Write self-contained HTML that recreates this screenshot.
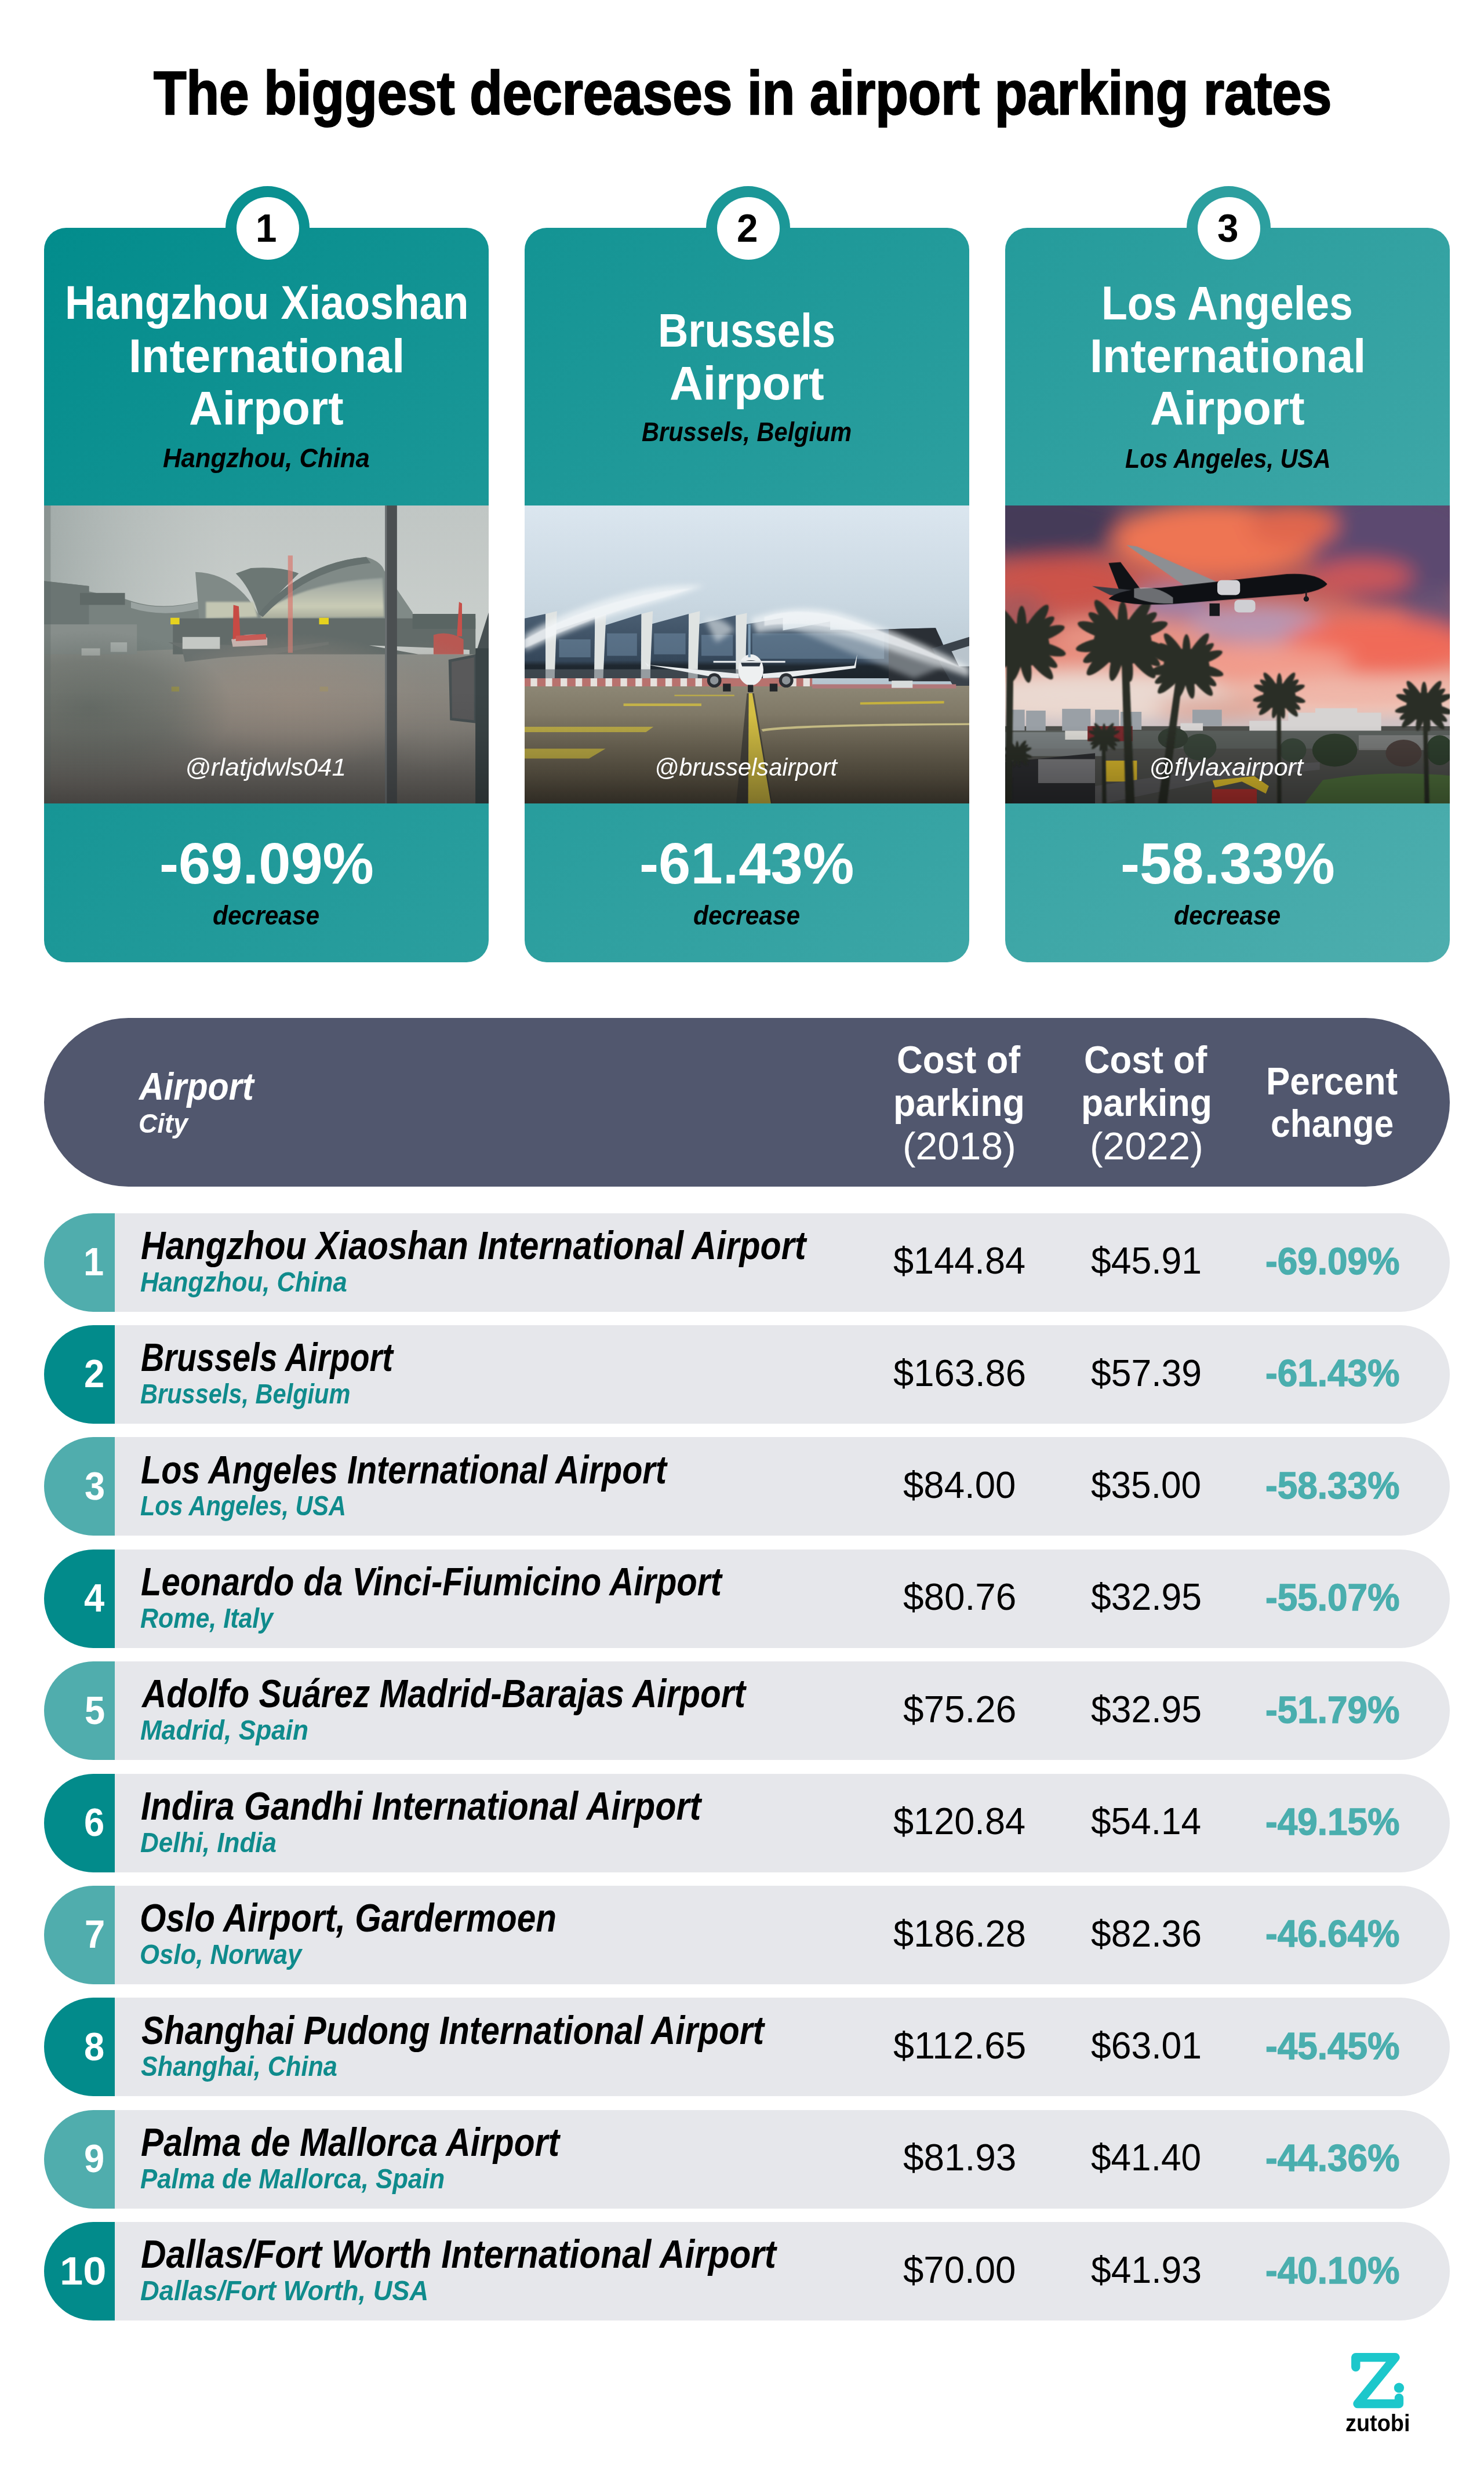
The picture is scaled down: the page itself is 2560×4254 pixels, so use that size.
<!DOCTYPE html>
<html lang="en"><head><meta charset="utf-8"><title>The biggest decreases in airport parking rates</title>
<style>
html,body{margin:0;padding:0;background:#fff;}
body{width:2560px;height:4254px;position:relative;overflow:hidden;font-family:"Liberation Sans",sans-serif;}
.t{position:absolute;white-space:nowrap;line-height:1;transform-origin:0 0;margin:0;padding:0;}
.card{position:absolute;border-radius:38px;}
.ring{position:absolute;width:145.4px;height:145.4px;border-radius:50%;}
.dot{position:absolute;width:108px;height:108px;border-radius:50%;background:#fff;}
.photo{position:absolute;overflow:hidden;background:#888;}
.photo svg{position:absolute;left:0;top:0;display:block;}
.hdr{position:absolute;left:76px;top:1756.3px;width:2425px;height:290.3px;border-radius:146px;background:#51576e;}
.rb{position:absolute;left:76.3px;width:122px;height:170px;border-radius:85px 0 0 85px;}
.rg{position:absolute;left:198.2px;width:2302.8px;height:170px;border-radius:0 85px 85px 0;background:#e6e7eb;}
</style></head>
<body>
<div class="card" style="left:76px;top:393px;width:767px;height:1267px;background-image:linear-gradient(135deg,#028c8c 0%,#4eaeae 100%);background-size:2425px 1267px;background-position:0px 0px;background-repeat:no-repeat;"></div>
<div class="ring" style="left:389.1px;top:320.7px;background-color:#0a9090;background-image:linear-gradient(135deg,#028c8c 0%,#4eaeae 100%);background-size:2425px 1267px;background-position:-313.1px 72.30000000000001px;background-repeat:no-repeat;"></div>
<div class="dot" style="left:407.8px;top:339.8px"></div>
<div class="card" style="left:905px;top:393px;width:767px;height:1267px;background-image:linear-gradient(135deg,#028c8c 0%,#4eaeae 100%);background-size:2425px 1267px;background-position:-829px 0px;background-repeat:no-repeat;"></div>
<div class="ring" style="left:1218.1px;top:320.7px;background-color:#1b9797;background-image:linear-gradient(135deg,#028c8c 0%,#4eaeae 100%);background-size:2425px 1267px;background-position:-1142.1px 72.30000000000001px;background-repeat:no-repeat;"></div>
<div class="dot" style="left:1236.8px;top:339.8px"></div>
<div class="card" style="left:1734px;top:393px;width:767px;height:1267px;background-image:linear-gradient(135deg,#028c8c 0%,#4eaeae 100%);background-size:2425px 1267px;background-position:-1658px 0px;background-repeat:no-repeat;"></div>
<div class="ring" style="left:2047.1px;top:320.7px;background-color:#2c9f9f;background-image:linear-gradient(135deg,#028c8c 0%,#4eaeae 100%);background-size:2425px 1267px;background-position:-1971.1px 72.30000000000001px;background-repeat:no-repeat;"></div>
<div class="dot" style="left:2065.8px;top:339.8px"></div>
<div class="photo" style="left:76px;top:872px;width:767px;height:514px"><svg width="767" height="514" viewBox="0 23 1484 995" preserveAspectRatio="none">
<defs>
<linearGradient id="p1sky" x1="0" y1="0" x2="0" y2="1"><stop offset="0" stop-color="#c0c6c4"/><stop offset="1" stop-color="#cbd0cd"/></linearGradient>
<linearGradient id="p1left" x1="0" y1="0" x2="1" y2="0"><stop offset="0" stop-color="#9aa4a2" stop-opacity=".8"/><stop offset=".5" stop-color="#a7b0ae" stop-opacity=".4"/><stop offset="1" stop-color="#b0b8b6" stop-opacity="0"/></linearGradient>
<linearGradient id="p1gnd" x1="0" y1="0" x2="0" y2="1"><stop offset="0" stop-color="#8a8d88"/><stop offset=".4" stop-color="#88857e"/><stop offset=".75" stop-color="#73706b"/><stop offset="1" stop-color="#625f5b"/></linearGradient>
<linearGradient id="p1dark" x1="0" y1="0" x2="0" y2="1"><stop offset="0" stop-color="#000" stop-opacity="0"/><stop offset=".35" stop-color="#000" stop-opacity=".06"/><stop offset="1" stop-color="#000" stop-opacity=".3"/></linearGradient>
<linearGradient id="p1win" x1="0" y1="0" x2="0" y2="1"><stop offset="0" stop-color="#9aa39f"/><stop offset=".7" stop-color="#c9cbb6"/><stop offset="1" stop-color="#a9ad9c"/></linearGradient>
<filter id="p1b"><feGaussianBlur stdDeviation="3"/></filter>
<filter id="p1b2" x="-50%" y="-50%" width="200%" height="200%"><feGaussianBlur stdDeviation="45"/></filter>
<radialGradient id="p1warm"><stop offset="0" stop-color="#9a8c80" stop-opacity=".75"/><stop offset=".55" stop-color="#9a8c80" stop-opacity=".45"/><stop offset="1" stop-color="#9a8c80" stop-opacity="0"/></radialGradient>
<radialGradient id="p1warm2"><stop offset="0" stop-color="#8a847c" stop-opacity=".6"/><stop offset="1" stop-color="#8a847c" stop-opacity="0"/></radialGradient>
<radialGradient id="p1cool"><stop offset="0" stop-color="#57615c" stop-opacity=".7"/><stop offset=".6" stop-color="#57615c" stop-opacity=".4"/><stop offset="1" stop-color="#57615c" stop-opacity="0"/></radialGradient>
</defs>
<rect x="0" y="23" width="1484" height="520" fill="url(#p1sky)"/>
<rect x="0" y="23" width="620" height="520" fill="url(#p1left)"/>
<rect x="0" y="500" width="1484" height="520" fill="url(#p1gnd)"/>
<!-- left buildings -->
<path d="M0 275 L150 292 L150 310 L270 335 L300 345 Q400 375 530 340 L530 500 L0 520 Z" fill="#78827f"/>
<path d="M0 275 L150 292 L150 420 L0 420 Z" fill="#6b7573"/>
<rect x="0" y="420" width="310" height="100" fill="#878e8b"/>
<rect x="120" y="315" width="150" height="40" fill="#5f6967"/>
<path d="M290 345 Q400 380 530 340 L530 365 Q400 400 290 365 Z" fill="#9aa3a1"/>
<!-- main terminal -->
<path d="M505 245 Q640 250 715 385 Q860 215 1075 195 Q1125 210 1135 240 L1230 380 L1235 430 L520 430 Z" fill="#808a87"/>
<path d="M690 232 Q790 225 850 250 L715 385 Q690 300 640 250 Z" fill="#6c7774"/>
<path d="M540 345 L700 345 L712 395 L540 400 Z" fill="#c3c6b2" filter="url(#p1b)"/>
<path d="M725 385 Q860 280 1130 265 L1135 395 L725 400 Z" fill="url(#p1win)" filter="url(#p1b)"/>
<path d="M715 385 Q860 215 1075 195 L1090 215 Q880 235 730 395 Z" fill="#66716f"/>
<rect x="430" y="400" width="1010" height="120" fill="#626b69"/>
<rect x="1230" y="385" width="210" height="50" fill="#5a6563"/>
<!-- aircraft & vehicles -->
<path d="M415 480 L640 490 L760 500 L950 478 L950 488 L760 520 L600 530 L470 545 L460 500 Z" fill="#6a716f"/>
<rect x="462" y="462" width="125" height="40" fill="#c4c8c4"/>
<path d="M625 470 Q690 440 745 465 L745 490 L630 495 Z" fill="#c9b4b0"/>
<path d="M632 355 L650 360 L655 465 L630 470 Z" fill="#c74a44"/>
<path d="M640 458 L740 452 L742 470 L640 476 Z" fill="#c95a55"/>
<rect x="814" y="190" width="16" height="325" fill="#d87a70" opacity=".7"/>
<rect x="422" y="398" width="30" height="22" fill="#e6d21e"/><rect x="918" y="398" width="32" height="22" fill="#e6d21e"/>
<rect x="425" y="628" width="26" height="16" fill="#b9a92c" opacity=".8"/><rect x="920" y="628" width="28" height="16" fill="#a89a3a" opacity=".6"/>
<rect x="125" y="500" width="62" height="24" fill="#b9bdb9"/><rect x="222" y="480" width="55" height="32" fill="#aeb4b1"/>
<path d="M1085 490 L1300 498 L1420 505 L1420 520 L1250 520 Z" fill="#c3c7c4"/>
<path d="M1300 455 Q1350 440 1400 470 L1400 520 L1300 520 Z" fill="#b85852"/>
<path d="M1385 345 L1395 350 L1395 460 L1378 460 Z" fill="#c7504a"/>
<!-- wet reflections -->
<ellipse cx="830" cy="680" rx="470" ry="230" fill="url(#p1warm)"/>
<ellipse cx="1290" cy="690" rx="200" ry="220" fill="url(#p1warm2)"/>
<ellipse cx="150" cy="700" rx="480" ry="260" fill="url(#p1cool)"/>
<!-- pole -->
<rect x="1138" y="23" width="40" height="995" fill="#4b4f51"/>
<rect x="1138" y="23" width="6" height="995" fill="#6d7274"/>
<!-- jet bridge right -->
<path d="M1350 538 L1440 520 L1484 380 L1484 1018 L1440 1018 L1440 750 L1355 740 Z" fill="#475052"/>
<path d="M1360 545 L1435 530 L1435 740 L1362 732 Z" fill="#59595a"/>
<rect x="1440" y="500" width="44" height="518" fill="#3a4446"/>
<rect x="0" y="23" width="22" height="995" fill="#5b6664" opacity=".35"/>
<!-- bottom darkening -->
<rect x="0" y="640" width="1484" height="380" fill="url(#p1dark)"/>
</svg>
</div>
<div class="photo" style="left:905px;top:872px;width:767px;height:514px"><svg width="767" height="514" viewBox="0 23 1484 995" preserveAspectRatio="none">
<defs>
<linearGradient id="p2sky" x1="0" y1="0" x2="0" y2="1"><stop offset="0" stop-color="#dbe6ef"/><stop offset=".5" stop-color="#cad8e2"/><stop offset="1" stop-color="#b4c4ce"/></linearGradient>
<linearGradient id="p2gnd" x1="0" y1="0" x2="0" y2="1"><stop offset="0" stop-color="#8d8775"/><stop offset=".3" stop-color="#7c7563"/><stop offset=".75" stop-color="#665e4d"/><stop offset="1" stop-color="#4f483b"/></linearGradient>
<linearGradient id="p2dark" x1="0" y1="0" x2="0" y2="1"><stop offset="0" stop-color="#000" stop-opacity="0"/><stop offset="1" stop-color="#000" stop-opacity=".4"/></linearGradient>
<linearGradient id="p2glass" x1="0" y1="0" x2="0" y2="1"><stop offset="0" stop-color="#4a5e72"/><stop offset=".72" stop-color="#35475a"/><stop offset=".8" stop-color="#1f2830"/><stop offset="1" stop-color="#1c242b"/></linearGradient>
<filter id="p2b" x="-20%" y="-40%" width="140%" height="180%"><feGaussianBlur stdDeviation="9"/></filter>
<filter id="p2b1"><feGaussianBlur stdDeviation="2"/></filter>
</defs>
<rect x="0" y="23" width="1484" height="620" fill="url(#p2sky)"/>
<rect x="0" y="625" width="1484" height="395" fill="url(#p2gnd)"/>
<!-- building: sawtooth glass blocks -->
<g fill="url(#p2glass)">
<path d="M0 400 L70 385 L70 600 L0 600 Z"/>
<path d="M100 440 L235 395 L235 600 L100 600 Z"/>
<path d="M262 425 L390 385 L390 600 L262 600 Z"/>
<path d="M420 420 L548 385 L548 600 L420 600 Z"/>
<path d="M578 420 L705 390 L705 600 L578 600 Z"/>
<path d="M738 420 L862 398 L862 440 L1020 410 L1020 438 L1215 436 L1370 432 L1390 470 L1440 600 L738 600 Z"/>
</g>
<path d="M1215 436 L1372 432 L1392 478 L1450 610 L1215 610 Z" fill="#2a2f35"/>
<path d="M1360 500 L1484 462 L1484 625 L1430 625 Z" fill="#3a424a"/>
<path d="M1425 510 L1484 492 L1484 560 L1450 560 Z" fill="#b9c4cc"/>
<g fill="#6f8aa3" opacity=".55"><rect x="115" y="470" width="105" height="60"/><rect x="275" y="450" width="100" height="75"/><rect x="432" y="450" width="105" height="70"/><rect x="590" y="455" width="105" height="70"/><rect x="760" y="450" width="440" height="85"/></g>
<!-- white pillars -->
<g fill="#dfe3e2">
<path d="M70 385 L108 376 L100 600 L70 600 Z"/><path d="M235 395 L272 386 L262 600 L232 600 Z"/>
<path d="M390 385 L428 376 L418 600 L388 600 Z"/><path d="M548 385 L585 376 L576 600 L546 600 Z"/>
<path d="M705 390 L742 382 L736 600 L706 600 Z"/>
</g>
<rect x="0" y="570" width="740" height="32" fill="#59636a" opacity=".55"/>
<!-- barriers -->
<rect x="0" y="600" width="960" height="27" fill="#b8726e"/>
<g fill="#e6e1dd"><rect x="20" y="600" width="22" height="27"/><rect x="70" y="600" width="22" height="27"/><rect x="120" y="600" width="22" height="27"/><rect x="170" y="600" width="22" height="27"/><rect x="220" y="600" width="22" height="27"/><rect x="270" y="600" width="22" height="27"/><rect x="320" y="600" width="22" height="27"/><rect x="370" y="600" width="22" height="27"/><rect x="420" y="600" width="22" height="27"/><rect x="470" y="600" width="22" height="27"/><rect x="520" y="600" width="22" height="27"/><rect x="570" y="600" width="22" height="27"/><rect x="885" y="600" width="22" height="27"/><rect x="930" y="600" width="22" height="27"/></g>
<rect x="960" y="620" width="480" height="14" fill="#b0787a"/>
<rect x="1225" y="608" width="70" height="24" fill="#d8dcdc"/>
<!-- water arcs -->
<path d="M0 455 Q170 352 400 302 Q500 284 600 290 Q520 325 420 352 Q200 412 0 510 Z" fill="#f2f6f8" opacity=".7" filter="url(#p2b)"/><path d="M0 470 Q170 372 400 322 Q480 305 560 300 Q470 330 400 348 Q200 405 0 500 Z" fill="#f4f7f9" opacity=".65" filter="url(#p2b1)"/>
<path d="M755 400 Q900 345 1050 380 Q1260 445 1484 562 L1484 596 Q1300 532 1150 482 Q960 418 775 448 Z" fill="#f2f6f8" opacity=".7" filter="url(#p2b)"/><path d="M800 395 Q900 362 1040 392 Q1250 455 1470 570 Q1300 510 1150 462 Q960 402 800 425 Z" fill="#f4f7f9" opacity=".65" filter="url(#p2b1)"/><path d="M860 420 Q1000 400 1200 470 L1400 560 L1300 600 L1100 520 Z" fill="#dfe7ec" opacity=".4" filter="url(#p2b)"/>
<path d="M600 400 Q660 390 700 440 L640 480 Z" fill="#e6ecef" opacity=".6" filter="url(#p2b)"/>
<!-- aircraft -->
<path d="M410 555 L715 585 L715 600 L640 598 Z" fill="#e9ecee"/>
<path d="M1110 520 L1100 558 L795 585 L795 600 L870 598 L1105 566 Z" fill="#e9ecee"/>
<path d="M400 545 L415 556 L412 562 Z" fill="#e9ecee"/>
<ellipse cx="755" cy="572" rx="42" ry="52" fill="#eef0f1"/>
<path d="M722 548 Q755 532 788 548 L784 560 L726 560 Z" fill="#2b3540"/>
<rect x="746" y="420" width="8" height="110" fill="#7f9db5"/>
<path d="M630 542 L870 542 L870 548 L630 548 Z" fill="#dfe3e6"/>
<circle cx="633" cy="607" r="24" fill="#2a2e33"/><circle cx="633" cy="607" r="14" fill="#8d9499"/>
<circle cx="873" cy="607" r="24" fill="#2a2e33"/><circle cx="873" cy="607" r="14" fill="#8d9499"/>
<rect x="662" y="618" width="26" height="26" fill="#23262a"/><rect x="818" y="618" width="26" height="26" fill="#23262a"/><rect x="745" y="622" width="18" height="24" fill="#23262a"/>
<!-- tarmac markings -->
<path d="M742 650 L766 650 L826 1018 L706 1018 Z" fill="#3f3d38" opacity=".8"/>
<path d="M748 650 L760 650 L822 1018 L746 1018 Z" fill="#d4bf44"/>
<path d="M330 684 L590 684 L590 693 L330 693 Z" fill="#c4b248"/>
<path d="M0 762 L430 762 L405 780 L0 780 Z" fill="#bcac48"/>
<path d="M0 835 L270 835 L215 868 L0 868 Z" fill="#bfae46"/>
<path d="M1120 680 L1400 676 L1400 684 L1120 688 Z" fill="#c5b13e"/>
<path d="M790 770 Q900 752 1484 750 L1484 756 Q900 760 795 778 Z" fill="#cfc58a"/>
<path d="M500 655 L700 655 L700 660 L500 660 Z" fill="#b9a94a"/>
<rect x="0" y="720" width="1484" height="300" fill="url(#p2dark)"/>
</svg>
</div>
<div class="photo" style="left:1734px;top:872px;width:767px;height:514px"><svg width="767" height="514" viewBox="0 23 1484 995" preserveAspectRatio="none">
<defs>
<linearGradient id="p3sky" x1="0" y1="0" x2="0" y2="1"><stop offset="0" stop-color="#5c4a64"/><stop offset=".25" stop-color="#b85a58"/><stop offset=".5" stop-color="#e88878"/><stop offset=".67" stop-color="#ecd2c6"/><stop offset=".72" stop-color="#cfc4c6"/><stop offset="1" stop-color="#b9b4b8"/></linearGradient>
<linearGradient id="p3dark" x1="0" y1="0" x2="0" y2="1"><stop offset="0" stop-color="#000" stop-opacity="0"/><stop offset="1" stop-color="#000" stop-opacity=".35"/></linearGradient>
<filter id="p3b" x="-50%" y="-50%" width="200%" height="200%"><feGaussianBlur stdDeviation="34"/></filter>
<filter id="p3s"><feGaussianBlur stdDeviation="1.6"/></filter>
</defs>
<rect x="0" y="23" width="1484" height="995" fill="url(#p3sky)"/>
<g filter="url(#p3b)">
<ellipse cx="100" cy="80" rx="310" ry="115" fill="#453b59"/>
<ellipse cx="1310" cy="160" rx="300" ry="200" fill="#5c4970"/>
<ellipse cx="1440" cy="420" rx="110" ry="120" fill="#6a5274"/>
<ellipse cx="700" cy="140" rx="340" ry="125" fill="#ee7452"/>
<ellipse cx="960" cy="90" rx="150" ry="70" fill="#e0664e"/>
<ellipse cx="1190" cy="260" rx="170" ry="55" fill="#cc5658"/>
<ellipse cx="190" cy="285" rx="240" ry="90" fill="#cc524a"/>
<ellipse cx="40" cy="400" rx="110" ry="90" fill="#a8585a"/>
<ellipse cx="560" cy="345" rx="130" ry="60" fill="#a080a4"/>
<ellipse cx="840" cy="420" rx="230" ry="65" fill="#b896b2"/>
<ellipse cx="1240" cy="490" rx="310" ry="95" fill="#f06a58"/>
<ellipse cx="860" cy="545" rx="300" ry="55" fill="#f29c8c"/>
<ellipse cx="420" cy="470" rx="260" ry="60" fill="#e89484"/>
<ellipse cx="300" cy="655" rx="430" ry="75" fill="#ead9d1"/>
<ellipse cx="1150" cy="655" rx="380" ry="55" fill="#f0b6a8"/>
<ellipse cx="700" cy="700" rx="200" ry="30" fill="#d89a8c"/>
</g>
<rect x="0" y="760" width="1484" height="260" fill="#4e4f4c"/>
<g fill="#9aa0a6"><rect x="15" y="705" width="50" height="70"/><rect x="70" y="708" width="65" height="70"/><rect x="190" y="702" width="95" height="75"/><rect x="300" y="705" width="80" height="70"/><rect x="385" y="712" width="70" height="60"/><rect x="625" y="705" width="98" height="55"/></g>
<g fill="#d6d3d2"><rect x="815" y="742" width="240" height="42"/><rect x="945" y="715" width="310" height="62"/><rect x="1035" y="700" width="140" height="20"/><rect x="585" y="750" width="75" height="35"/></g>
<rect x="0" y="775" width="1484" height="60" fill="#5a5f5c"/>
<rect x="0" y="780" width="330" height="80" fill="#8e9498" opacity=".6"/>
<rect x="1180" y="790" width="304" height="50" fill="#9a9a9a" opacity=".5"/>
<path d="M0 880 L300 850 L300 1018 L0 1018 Z" fill="#2c2d30"/>
<rect x="110" y="870" width="190" height="80" fill="#77777a"/>
<rect x="200" y="775" width="90" height="30" fill="#d9d7d2"/><rect x="275" y="760" width="150" height="50" fill="#7a2a2e"/>
<rect x="335" y="875" width="105" height="70" fill="#d6b52c"/>
<path d="M690 935 L800 905 L880 960 L870 985 L790 945 L700 965 Z" fill="#e3c22e"/>
<rect x="690" y="970" width="150" height="50" fill="#b3322f"/>
<path d="M1060 940 Q1250 905 1484 925 L1484 1018 L1000 1018 Z" fill="#4f6f3c"/>
<ellipse cx="1100" cy="840" rx="75" ry="55" fill="#2f3d2d"/><ellipse cx="1330" cy="850" rx="60" ry="45" fill="#4a3f3c"/><ellipse cx="1450" cy="840" rx="45" ry="50" fill="#2f402f"/>
<ellipse cx="650" cy="830" rx="55" ry="45" fill="#39453a"/><ellipse cx="560" cy="800" rx="50" ry="35" fill="#333d33"/><ellipse cx="960" cy="840" rx="45" ry="40" fill="#39463a"/>
<path d="M300 960 L700 900 L1050 880 L1050 905 L700 940 L330 1018 L300 1018 Z" fill="#5c5c5e"/>
<g fill="#2b2f27" filter="url(#p3s)">
<path d="M5 520 L28 520 L22 1018 L0 1018 Z"/>
<path d="M388 520 L412 520 L432 1018 L402 1018 Z"/>
<path d="M570 600 L592 600 L540 1018 L510 1018 Z"/>
<path d="M906 660 L920 660 L922 1018 L908 1018 Z"/>
<path d="M1394 700 L1408 700 L1416 1018 L1400 1018 Z"/>
<path d="M322 800 L334 800 L338 1018 L324 1018 Z"/>
<g transform="translate(55 480) scale(1.05)"><ellipse rx="88" ry="70" cy="8"/><ellipse cx="70" cy="0" rx="75" ry="19" transform="rotate(-20) scale(1)"/><ellipse cx="70" cy="0" rx="75" ry="19" transform="rotate(-55) scale(1)"/><ellipse cx="70" cy="0" rx="75" ry="19" transform="rotate(-90) scale(0.8)"/><ellipse cx="70" cy="0" rx="75" ry="19" transform="rotate(-125) scale(1)"/><ellipse cx="70" cy="0" rx="75" ry="19" transform="rotate(-160) scale(1)"/><ellipse cx="70" cy="0" rx="75" ry="19" transform="rotate(15) scale(1)"/><ellipse cx="70" cy="0" rx="75" ry="19" transform="rotate(50) scale(1.05)"/><ellipse cx="70" cy="0" rx="75" ry="19" transform="rotate(80) scale(0.9)"/><ellipse cx="70" cy="0" rx="75" ry="19" transform="rotate(105) scale(0.9)"/><ellipse cx="70" cy="0" rx="75" ry="19" transform="rotate(135) scale(1.05)"/><ellipse cx="70" cy="0" rx="75" ry="19" transform="rotate(168) scale(1)"/><ellipse cx="70" cy="0" rx="75" ry="19" transform="rotate(35) scale(0.95)"/><ellipse cx="70" cy="0" rx="75" ry="19" transform="rotate(150) scale(0.95)"/><ellipse cx="70" cy="0" rx="75" ry="19" transform="rotate(-38) scale(0.9)"/><ellipse cx="70" cy="0" rx="75" ry="19" transform="rotate(-142) scale(0.9)"/></g><g transform="translate(392 470) scale(1.1)"><ellipse rx="88" ry="70" cy="8"/><ellipse cx="70" cy="0" rx="75" ry="19" transform="rotate(-20) scale(1)"/><ellipse cx="70" cy="0" rx="75" ry="19" transform="rotate(-55) scale(1)"/><ellipse cx="70" cy="0" rx="75" ry="19" transform="rotate(-90) scale(0.8)"/><ellipse cx="70" cy="0" rx="75" ry="19" transform="rotate(-125) scale(1)"/><ellipse cx="70" cy="0" rx="75" ry="19" transform="rotate(-160) scale(1)"/><ellipse cx="70" cy="0" rx="75" ry="19" transform="rotate(15) scale(1)"/><ellipse cx="70" cy="0" rx="75" ry="19" transform="rotate(50) scale(1.05)"/><ellipse cx="70" cy="0" rx="75" ry="19" transform="rotate(80) scale(0.9)"/><ellipse cx="70" cy="0" rx="75" ry="19" transform="rotate(105) scale(0.9)"/><ellipse cx="70" cy="0" rx="75" ry="19" transform="rotate(135) scale(1.05)"/><ellipse cx="70" cy="0" rx="75" ry="19" transform="rotate(168) scale(1)"/><ellipse cx="70" cy="0" rx="75" ry="19" transform="rotate(35) scale(0.95)"/><ellipse cx="70" cy="0" rx="75" ry="19" transform="rotate(150) scale(0.95)"/><ellipse cx="70" cy="0" rx="75" ry="19" transform="rotate(-38) scale(0.9)"/><ellipse cx="70" cy="0" rx="75" ry="19" transform="rotate(-142) scale(0.9)"/></g><g transform="translate(605 555) scale(0.88)"><ellipse rx="88" ry="70" cy="8"/><ellipse cx="70" cy="0" rx="75" ry="19" transform="rotate(-20) scale(1)"/><ellipse cx="70" cy="0" rx="75" ry="19" transform="rotate(-55) scale(1)"/><ellipse cx="70" cy="0" rx="75" ry="19" transform="rotate(-90) scale(0.8)"/><ellipse cx="70" cy="0" rx="75" ry="19" transform="rotate(-125) scale(1)"/><ellipse cx="70" cy="0" rx="75" ry="19" transform="rotate(-160) scale(1)"/><ellipse cx="70" cy="0" rx="75" ry="19" transform="rotate(15) scale(1)"/><ellipse cx="70" cy="0" rx="75" ry="19" transform="rotate(50) scale(1.05)"/><ellipse cx="70" cy="0" rx="75" ry="19" transform="rotate(80) scale(0.9)"/><ellipse cx="70" cy="0" rx="75" ry="19" transform="rotate(105) scale(0.9)"/><ellipse cx="70" cy="0" rx="75" ry="19" transform="rotate(135) scale(1.05)"/><ellipse cx="70" cy="0" rx="75" ry="19" transform="rotate(168) scale(1)"/><ellipse cx="70" cy="0" rx="75" ry="19" transform="rotate(35) scale(0.95)"/><ellipse cx="70" cy="0" rx="75" ry="19" transform="rotate(150) scale(0.95)"/><ellipse cx="70" cy="0" rx="75" ry="19" transform="rotate(-38) scale(0.9)"/><ellipse cx="70" cy="0" rx="75" ry="19" transform="rotate(-142) scale(0.9)"/></g><g transform="translate(915 655) scale(0.62)"><ellipse rx="88" ry="70" cy="8"/><ellipse cx="70" cy="0" rx="75" ry="19" transform="rotate(-20) scale(1)"/><ellipse cx="70" cy="0" rx="75" ry="19" transform="rotate(-55) scale(1)"/><ellipse cx="70" cy="0" rx="75" ry="19" transform="rotate(-90) scale(0.8)"/><ellipse cx="70" cy="0" rx="75" ry="19" transform="rotate(-125) scale(1)"/><ellipse cx="70" cy="0" rx="75" ry="19" transform="rotate(-160) scale(1)"/><ellipse cx="70" cy="0" rx="75" ry="19" transform="rotate(15) scale(1)"/><ellipse cx="70" cy="0" rx="75" ry="19" transform="rotate(50) scale(1.05)"/><ellipse cx="70" cy="0" rx="75" ry="19" transform="rotate(80) scale(0.9)"/><ellipse cx="70" cy="0" rx="75" ry="19" transform="rotate(105) scale(0.9)"/><ellipse cx="70" cy="0" rx="75" ry="19" transform="rotate(135) scale(1.05)"/><ellipse cx="70" cy="0" rx="75" ry="19" transform="rotate(168) scale(1)"/><ellipse cx="70" cy="0" rx="75" ry="19" transform="rotate(35) scale(0.95)"/><ellipse cx="70" cy="0" rx="75" ry="19" transform="rotate(150) scale(0.95)"/><ellipse cx="70" cy="0" rx="75" ry="19" transform="rotate(-38) scale(0.9)"/><ellipse cx="70" cy="0" rx="75" ry="19" transform="rotate(-142) scale(0.9)"/></g><g transform="translate(1398 690) scale(0.68)"><ellipse rx="88" ry="70" cy="8"/><ellipse cx="70" cy="0" rx="75" ry="19" transform="rotate(-20) scale(1)"/><ellipse cx="70" cy="0" rx="75" ry="19" transform="rotate(-55) scale(1)"/><ellipse cx="70" cy="0" rx="75" ry="19" transform="rotate(-90) scale(0.8)"/><ellipse cx="70" cy="0" rx="75" ry="19" transform="rotate(-125) scale(1)"/><ellipse cx="70" cy="0" rx="75" ry="19" transform="rotate(-160) scale(1)"/><ellipse cx="70" cy="0" rx="75" ry="19" transform="rotate(15) scale(1)"/><ellipse cx="70" cy="0" rx="75" ry="19" transform="rotate(50) scale(1.05)"/><ellipse cx="70" cy="0" rx="75" ry="19" transform="rotate(80) scale(0.9)"/><ellipse cx="70" cy="0" rx="75" ry="19" transform="rotate(105) scale(0.9)"/><ellipse cx="70" cy="0" rx="75" ry="19" transform="rotate(135) scale(1.05)"/><ellipse cx="70" cy="0" rx="75" ry="19" transform="rotate(168) scale(1)"/><ellipse cx="70" cy="0" rx="75" ry="19" transform="rotate(35) scale(0.95)"/><ellipse cx="70" cy="0" rx="75" ry="19" transform="rotate(150) scale(0.95)"/><ellipse cx="70" cy="0" rx="75" ry="19" transform="rotate(-38) scale(0.9)"/><ellipse cx="70" cy="0" rx="75" ry="19" transform="rotate(-142) scale(0.9)"/></g><g transform="translate(330 795) scale(0.38)"><ellipse rx="88" ry="70" cy="8"/><ellipse cx="70" cy="0" rx="75" ry="19" transform="rotate(-20) scale(1)"/><ellipse cx="70" cy="0" rx="75" ry="19" transform="rotate(-55) scale(1)"/><ellipse cx="70" cy="0" rx="75" ry="19" transform="rotate(-90) scale(0.8)"/><ellipse cx="70" cy="0" rx="75" ry="19" transform="rotate(-125) scale(1)"/><ellipse cx="70" cy="0" rx="75" ry="19" transform="rotate(-160) scale(1)"/><ellipse cx="70" cy="0" rx="75" ry="19" transform="rotate(15) scale(1)"/><ellipse cx="70" cy="0" rx="75" ry="19" transform="rotate(50) scale(1.05)"/><ellipse cx="70" cy="0" rx="75" ry="19" transform="rotate(80) scale(0.9)"/><ellipse cx="70" cy="0" rx="75" ry="19" transform="rotate(105) scale(0.9)"/><ellipse cx="70" cy="0" rx="75" ry="19" transform="rotate(135) scale(1.05)"/><ellipse cx="70" cy="0" rx="75" ry="19" transform="rotate(168) scale(1)"/><ellipse cx="70" cy="0" rx="75" ry="19" transform="rotate(35) scale(0.95)"/><ellipse cx="70" cy="0" rx="75" ry="19" transform="rotate(150) scale(0.95)"/><ellipse cx="70" cy="0" rx="75" ry="19" transform="rotate(-38) scale(0.9)"/><ellipse cx="70" cy="0" rx="75" ry="19" transform="rotate(-142) scale(0.9)"/></g><g transform="translate(40 850) scale(0.35)"><ellipse rx="88" ry="70" cy="8"/><ellipse cx="70" cy="0" rx="75" ry="19" transform="rotate(-20) scale(1)"/><ellipse cx="70" cy="0" rx="75" ry="19" transform="rotate(-55) scale(1)"/><ellipse cx="70" cy="0" rx="75" ry="19" transform="rotate(-90) scale(0.8)"/><ellipse cx="70" cy="0" rx="75" ry="19" transform="rotate(-125) scale(1)"/><ellipse cx="70" cy="0" rx="75" ry="19" transform="rotate(-160) scale(1)"/><ellipse cx="70" cy="0" rx="75" ry="19" transform="rotate(15) scale(1)"/><ellipse cx="70" cy="0" rx="75" ry="19" transform="rotate(50) scale(1.05)"/><ellipse cx="70" cy="0" rx="75" ry="19" transform="rotate(80) scale(0.9)"/><ellipse cx="70" cy="0" rx="75" ry="19" transform="rotate(105) scale(0.9)"/><ellipse cx="70" cy="0" rx="75" ry="19" transform="rotate(135) scale(1.05)"/><ellipse cx="70" cy="0" rx="75" ry="19" transform="rotate(168) scale(1)"/><ellipse cx="70" cy="0" rx="75" ry="19" transform="rotate(35) scale(0.95)"/><ellipse cx="70" cy="0" rx="75" ry="19" transform="rotate(150) scale(0.95)"/><ellipse cx="70" cy="0" rx="75" ry="19" transform="rotate(-38) scale(0.9)"/><ellipse cx="70" cy="0" rx="75" ry="19" transform="rotate(-142) scale(0.9)"/></g>
</g>
<path d="M405 155 L440 160 L700 275 L760 300 L700 330 L640 320 Z" fill="#8d8f93"/>
<path d="M345 215 L385 212 L450 300 L470 312 L385 318 Z" fill="#101216"/>
<path d="M290 292 L420 305 L440 330 L350 322 Z" fill="#3a3d44"/>
<path d="M345 335 Q380 300 520 298 L940 252 Q1040 246 1075 285 Q1060 305 990 318 L560 352 Q420 360 345 335 Z" fill="#0e1014"/>
<path d="M430 300 Q500 285 560 330 L560 350 Q480 352 430 330 Z" fill="#b9bcc0" opacity=".55"/>
<rect x="708" y="272" width="76" height="50" rx="14" fill="#d2d2d6"/>
<rect x="765" y="338" width="70" height="42" rx="14" fill="#cfcfd3"/>
<rect x="682" y="350" width="34" height="42" fill="#16181c"/><circle cx="1005" cy="335" r="9" fill="#16181c"/><rect x="1002" y="305" width="5" height="28" fill="#16181c"/>
<rect x="0" y="760" width="1484" height="260" fill="url(#p3dark)"/>
</svg>
</div>
<div class="hdr"></div>
<div class="rb" style="top:2092.6px;background:#50adad"></div><div class="rg" style="top:2092.6px"></div>
<div class="rb" style="top:2286.0px;background:#028b8b"></div><div class="rg" style="top:2286.0px"></div>
<div class="rb" style="top:2479.4px;background:#50adad"></div><div class="rg" style="top:2479.4px"></div>
<div class="rb" style="top:2672.8px;background:#028b8b"></div><div class="rg" style="top:2672.8px"></div>
<div class="rb" style="top:2866.2px;background:#50adad"></div><div class="rg" style="top:2866.2px"></div>
<div class="rb" style="top:3059.6px;background:#028b8b"></div><div class="rg" style="top:3059.6px"></div>
<div class="rb" style="top:3253.0px;background:#50adad"></div><div class="rg" style="top:3253.0px"></div>
<div class="rb" style="top:3446.4px;background:#028b8b"></div><div class="rg" style="top:3446.4px"></div>
<div class="rb" style="top:3639.8px;background:#50adad"></div><div class="rg" style="top:3639.8px"></div>
<div class="rb" style="top:3833.2px;background:#028b8b"></div><div class="rg" style="top:3833.2px"></div>
<svg style="position:absolute;left:2280px;top:4020px" width="200" height="200" viewBox="0 0 1484 1484"><path d="M436 470 L436 346 L942 346 L460 940 L990 940 L990 866" fill="none" stroke="#1cc7cb" stroke-width="114" stroke-linejoin="round" stroke-linecap="round"/><circle cx="990" cy="736" r="64" fill="#1cc7cb"/></svg>

<div class="t" style="left:264.50px;top:108.00px;font:bold 105px/1 'Liberation Sans',sans-serif;color:#000;transform:scaleX(0.8817);-webkit-text-stroke:2.4px #000;">The biggest decreases in airport parking rates</div>
<div class="t" style="left:440.74px;top:359.00px;font:bold 69px/1 'Liberation Sans',sans-serif;color:#000;transform:scaleX(0.9500);">1</div>
<div class="t" style="left:1270.76px;top:359.00px;font:bold 69px/1 'Liberation Sans',sans-serif;color:#000;transform:scaleX(0.9500);">2</div>
<div class="t" style="left:2100.28px;top:359.00px;font:bold 69px/1 'Liberation Sans',sans-serif;color:#000;transform:scaleX(0.9500);">3</div>
<div class="t" style="left:111.74px;top:481.90px;font:bold 81px/1 'Liberation Sans',sans-serif;color:#fff;transform:scaleX(0.8998);">Hangzhou Xiaoshan</div>
<div class="t" style="left:222.04px;top:573.90px;font:bold 81px/1 'Liberation Sans',sans-serif;color:#fff;transform:scaleX(0.9799);">International</div>
<div class="t" style="left:326.45px;top:663.90px;font:bold 81px/1 'Liberation Sans',sans-serif;color:#fff;transform:scaleX(0.9880);">Airport</div>
<div class="t" style="left:281.02px;top:765.50px;font:italic bold 47px/1 'Liberation Sans',sans-serif;color:#000;transform:scaleX(0.9296);">Hangzhou, China</div>
<div class="t" style="left:1135.47px;top:530.00px;font:bold 81px/1 'Liberation Sans',sans-serif;color:#fff;transform:scaleX(0.8953);">Brussels</div>
<div class="t" style="left:1155.45px;top:620.50px;font:bold 81px/1 'Liberation Sans',sans-serif;color:#fff;transform:scaleX(0.9880);">Airport</div>
<div class="t" style="left:1107.35px;top:721.30px;font:italic bold 47px/1 'Liberation Sans',sans-serif;color:#000;transform:scaleX(0.8832);">Brussels, Belgium</div>
<div class="t" style="left:1899.91px;top:482.50px;font:bold 81px/1 'Liberation Sans',sans-serif;color:#fff;transform:scaleX(0.9065);">Los Angeles</div>
<div class="t" style="left:1880.04px;top:573.90px;font:bold 81px/1 'Liberation Sans',sans-serif;color:#fff;transform:scaleX(0.9799);">International</div>
<div class="t" style="left:1984.45px;top:663.90px;font:bold 81px/1 'Liberation Sans',sans-serif;color:#fff;transform:scaleX(0.9880);">Airport</div>
<div class="t" style="left:1941.15px;top:766.50px;font:italic bold 47px/1 'Liberation Sans',sans-serif;color:#000;transform:scaleX(0.8801);">Los Angeles, USA</div>
<div class="t" style="left:318.86px;top:1302.50px;font:italic 42px/1 'Liberation Sans',sans-serif;color:#fff;transform:scaleX(1.0518);">@rlatjdwls041</div>
<div class="t" style="left:1128.50px;top:1302.50px;font:italic 42px/1 'Liberation Sans',sans-serif;color:#fff;transform:scaleX(0.9905);">@brusselsairport</div>
<div class="t" style="left:1981.63px;top:1302.50px;font:italic 42px/1 'Liberation Sans',sans-serif;color:#fff;transform:scaleX(1.0338);">@flylaxairport</div>
<div class="t" style="left:274.50px;top:1438.50px;font:bold 100px/1 'Liberation Sans',sans-serif;color:#fff;transform:scaleX(0.9932);">-69.09%</div>
<div class="t" style="left:1103.49px;top:1438.50px;font:bold 100px/1 'Liberation Sans',sans-serif;color:#fff;transform:scaleX(0.9942);">-61.43%</div>
<div class="t" style="left:1932.50px;top:1438.50px;font:bold 100px/1 'Liberation Sans',sans-serif;color:#fff;transform:scaleX(0.9932);">-58.33%</div>
<div class="t" style="left:367.34px;top:1556.20px;font:italic bold 46px/1 'Liberation Sans',sans-serif;color:#000;transform:scaleX(0.9234);">decrease</div>
<div class="t" style="left:1196.34px;top:1556.20px;font:italic bold 46px/1 'Liberation Sans',sans-serif;color:#000;transform:scaleX(0.9234);">decrease</div>
<div class="t" style="left:2025.34px;top:1556.20px;font:italic bold 46px/1 'Liberation Sans',sans-serif;color:#000;transform:scaleX(0.9234);">decrease</div>
<div class="t" style="left:239.85px;top:1839.60px;font:italic bold 67px/1 'Liberation Sans',sans-serif;color:#fff;transform:scaleX(0.8851);">Airport</div>
<div class="t" style="left:238.69px;top:1915.40px;font:italic bold 46px/1 'Liberation Sans',sans-serif;color:#fff;transform:scaleX(0.9771);">City</div>
<div class="t" style="left:1546.82px;top:1793.50px;font:bold 67px/1 'Liberation Sans',sans-serif;color:#fff;transform:scaleX(0.9230);">Cost of</div>
<div class="t" style="left:1541.17px;top:1867.80px;font:bold 67px/1 'Liberation Sans',sans-serif;color:#fff;transform:scaleX(0.9378);">parking</div>
<div class="t" style="left:1556.93px;top:1942.80px;font:normal 67px/1 'Liberation Sans',sans-serif;color:#fff;transform:scaleX(1.0104);">(2018)</div>
<div class="t" style="left:1870.37px;top:1793.50px;font:bold 67px/1 'Liberation Sans',sans-serif;color:#fff;transform:scaleX(0.9199);">Cost of</div>
<div class="t" style="left:1864.89px;top:1867.80px;font:bold 67px/1 'Liberation Sans',sans-serif;color:#fff;transform:scaleX(0.9335);">parking</div>
<div class="t" style="left:1880.13px;top:1942.80px;font:normal 67px/1 'Liberation Sans',sans-serif;color:#fff;transform:scaleX(1.0104);">(2022)</div>
<div class="t" style="left:2184.13px;top:1830.70px;font:bold 67px/1 'Liberation Sans',sans-serif;color:#fff;transform:scaleX(0.9243);">Percent</div>
<div class="t" style="left:2191.91px;top:1904.20px;font:bold 67px/1 'Liberation Sans',sans-serif;color:#fff;transform:scaleX(0.9047);">change</div>
<div class="t" style="left:144.43px;top:2141.90px;font:bold 68px/1 'Liberation Sans',sans-serif;color:#fff;transform:scaleX(0.9300);">1</div>
<div class="t" style="left:242.58px;top:2113.80px;font:italic bold 68px/1 'Liberation Sans',sans-serif;color:#000;transform:scaleX(0.8694);">Hangzhou Xiaoshan International Airport</div>
<div class="t" style="left:242.32px;top:2187.50px;font:italic bold 48px/1 'Liberation Sans',sans-serif;color:#0f8b8c;transform:scaleX(0.9102);">Hangzhou, China</div>
<div class="t" style="left:1541.05px;top:2142.20px;font:normal 65px/1 'Liberation Sans',sans-serif;color:#000;transform:scaleX(0.9707);">$144.84</div>
<div class="t" style="left:1881.75px;top:2142.20px;font:normal 65px/1 'Liberation Sans',sans-serif;color:#000;transform:scaleX(0.9609);">$45.91</div>
<div class="t" style="left:2182.56px;top:2142.95px;font:bold 65.5px/1 'Liberation Sans',sans-serif;color:#4aaeae;transform:scaleX(0.9486);-webkit-text-stroke:1.4px #4aaeae;">-69.09%</div>
<div class="t" style="left:145.41px;top:2335.30px;font:bold 68px/1 'Liberation Sans',sans-serif;color:#fff;transform:scaleX(0.9300);">2</div>
<div class="t" style="left:242.63px;top:2307.20px;font:italic bold 68px/1 'Liberation Sans',sans-serif;color:#000;transform:scaleX(0.8199);">Brussels Airport</div>
<div class="t" style="left:242.35px;top:2380.90px;font:italic bold 48px/1 'Liberation Sans',sans-serif;color:#0f8b8c;transform:scaleX(0.8653);">Brussels, Belgium</div>
<div class="t" style="left:1541.05px;top:2335.60px;font:normal 65px/1 'Liberation Sans',sans-serif;color:#000;transform:scaleX(0.9749);">$163.86</div>
<div class="t" style="left:1881.75px;top:2335.60px;font:normal 65px/1 'Liberation Sans',sans-serif;color:#000;transform:scaleX(0.9609);">$57.39</div>
<div class="t" style="left:2182.56px;top:2336.35px;font:bold 65.5px/1 'Liberation Sans',sans-serif;color:#4aaeae;transform:scaleX(0.9486);-webkit-text-stroke:1.4px #4aaeae;">-61.43%</div>
<div class="t" style="left:145.91px;top:2528.70px;font:bold 68px/1 'Liberation Sans',sans-serif;color:#fff;transform:scaleX(0.9300);">3</div>
<div class="t" style="left:242.60px;top:2500.60px;font:italic bold 68px/1 'Liberation Sans',sans-serif;color:#000;transform:scaleX(0.8462);">Los Angeles International Airport</div>
<div class="t" style="left:242.35px;top:2574.30px;font:italic bold 48px/1 'Liberation Sans',sans-serif;color:#0f8b8c;transform:scaleX(0.8620);">Los Angeles, USA</div>
<div class="t" style="left:1557.90px;top:2529.00px;font:normal 65px/1 'Liberation Sans',sans-serif;color:#000;transform:scaleX(0.9777);">$84.00</div>
<div class="t" style="left:1881.75px;top:2529.00px;font:normal 65px/1 'Liberation Sans',sans-serif;color:#000;transform:scaleX(0.9559);">$35.00</div>
<div class="t" style="left:2182.56px;top:2529.75px;font:bold 65.5px/1 'Liberation Sans',sans-serif;color:#4aaeae;transform:scaleX(0.9486);-webkit-text-stroke:1.4px #4aaeae;">-58.33%</div>
<div class="t" style="left:145.41px;top:2722.10px;font:bold 68px/1 'Liberation Sans',sans-serif;color:#fff;transform:scaleX(0.9300);">4</div>
<div class="t" style="left:242.59px;top:2694.00px;font:italic bold 68px/1 'Liberation Sans',sans-serif;color:#000;transform:scaleX(0.8535);">Leonardo da Vinci-Fiumicino Airport</div>
<div class="t" style="left:242.33px;top:2767.70px;font:italic bold 48px/1 'Liberation Sans',sans-serif;color:#0f8b8c;transform:scaleX(0.8950);">Rome, Italy</div>
<div class="t" style="left:1557.90px;top:2722.40px;font:normal 65px/1 'Liberation Sans',sans-serif;color:#000;transform:scaleX(0.9828);">$80.76</div>
<div class="t" style="left:1881.75px;top:2722.40px;font:normal 65px/1 'Liberation Sans',sans-serif;color:#000;transform:scaleX(0.9609);">$32.95</div>
<div class="t" style="left:2182.56px;top:2723.15px;font:bold 65.5px/1 'Liberation Sans',sans-serif;color:#4aaeae;transform:scaleX(0.9486);-webkit-text-stroke:1.4px #4aaeae;">-55.07%</div>
<div class="t" style="left:145.91px;top:2915.50px;font:bold 68px/1 'Liberation Sans',sans-serif;color:#fff;transform:scaleX(0.9300);">5</div>
<div class="t" style="left:245.33px;top:2887.40px;font:italic bold 68px/1 'Liberation Sans',sans-serif;color:#000;transform:scaleX(0.8601);">Adolfo Suárez Madrid-Barajas Airport</div>
<div class="t" style="left:242.31px;top:2961.10px;font:italic bold 48px/1 'Liberation Sans',sans-serif;color:#0f8b8c;transform:scaleX(0.9220);">Madrid, Spain</div>
<div class="t" style="left:1557.90px;top:2915.80px;font:normal 65px/1 'Liberation Sans',sans-serif;color:#000;transform:scaleX(0.9828);">$75.26</div>
<div class="t" style="left:1881.75px;top:2915.80px;font:normal 65px/1 'Liberation Sans',sans-serif;color:#000;transform:scaleX(0.9609);">$32.95</div>
<div class="t" style="left:2182.56px;top:2916.55px;font:bold 65.5px/1 'Liberation Sans',sans-serif;color:#4aaeae;transform:scaleX(0.9486);-webkit-text-stroke:1.4px #4aaeae;">-51.79%</div>
<div class="t" style="left:145.41px;top:3108.90px;font:bold 68px/1 'Liberation Sans',sans-serif;color:#fff;transform:scaleX(0.9300);">6</div>
<div class="t" style="left:242.57px;top:3080.80px;font:italic bold 68px/1 'Liberation Sans',sans-serif;color:#000;transform:scaleX(0.8719);">Indira Gandhi International Airport</div>
<div class="t" style="left:242.31px;top:3154.50px;font:italic bold 48px/1 'Liberation Sans',sans-serif;color:#0f8b8c;transform:scaleX(0.9182);">Delhi, India</div>
<div class="t" style="left:1541.05px;top:3109.20px;font:normal 65px/1 'Liberation Sans',sans-serif;color:#000;transform:scaleX(0.9707);">$120.84</div>
<div class="t" style="left:1881.75px;top:3109.20px;font:normal 65px/1 'Liberation Sans',sans-serif;color:#000;transform:scaleX(0.9559);">$54.14</div>
<div class="t" style="left:2182.56px;top:3109.95px;font:bold 65.5px/1 'Liberation Sans',sans-serif;color:#4aaeae;transform:scaleX(0.9486);-webkit-text-stroke:1.4px #4aaeae;">-49.15%</div>
<div class="t" style="left:145.91px;top:3302.30px;font:bold 68px/1 'Liberation Sans',sans-serif;color:#fff;transform:scaleX(0.9300);">7</div>
<div class="t" style="left:240.76px;top:3274.20px;font:italic bold 68px/1 'Liberation Sans',sans-serif;color:#000;transform:scaleX(0.8597);">Oslo Airport, Gardermoen</div>
<div class="t" style="left:240.95px;top:3347.90px;font:italic bold 48px/1 'Liberation Sans',sans-serif;color:#0f8b8c;transform:scaleX(0.9109);">Oslo, Norway</div>
<div class="t" style="left:1541.05px;top:3302.60px;font:normal 65px/1 'Liberation Sans',sans-serif;color:#000;transform:scaleX(0.9749);">$186.28</div>
<div class="t" style="left:1881.75px;top:3302.60px;font:normal 65px/1 'Liberation Sans',sans-serif;color:#000;transform:scaleX(0.9609);">$82.36</div>
<div class="t" style="left:2182.56px;top:3303.35px;font:bold 65.5px/1 'Liberation Sans',sans-serif;color:#4aaeae;transform:scaleX(0.9486);-webkit-text-stroke:1.4px #4aaeae;">-46.64%</div>
<div class="t" style="left:145.41px;top:3495.70px;font:bold 68px/1 'Liberation Sans',sans-serif;color:#fff;transform:scaleX(0.9300);">8</div>
<div class="t" style="left:243.50px;top:3467.60px;font:italic bold 68px/1 'Liberation Sans',sans-serif;color:#000;transform:scaleX(0.8607);">Shanghai Pudong International Airport</div>
<div class="t" style="left:243.00px;top:3541.30px;font:italic bold 48px/1 'Liberation Sans',sans-serif;color:#0f8b8c;transform:scaleX(0.9012);">Shanghai, China</div>
<div class="t" style="left:1541.05px;top:3496.00px;font:normal 65px/1 'Liberation Sans',sans-serif;color:#000;transform:scaleX(0.9956);">$112.65</div>
<div class="t" style="left:1881.75px;top:3496.00px;font:normal 65px/1 'Liberation Sans',sans-serif;color:#000;transform:scaleX(0.9609);">$63.01</div>
<div class="t" style="left:2182.56px;top:3496.75px;font:bold 65.5px/1 'Liberation Sans',sans-serif;color:#4aaeae;transform:scaleX(0.9486);-webkit-text-stroke:1.4px #4aaeae;">-45.45%</div>
<div class="t" style="left:145.41px;top:3689.10px;font:bold 68px/1 'Liberation Sans',sans-serif;color:#fff;transform:scaleX(0.9300);">9</div>
<div class="t" style="left:242.58px;top:3661.00px;font:italic bold 68px/1 'Liberation Sans',sans-serif;color:#000;transform:scaleX(0.8632);">Palma de Mallorca Airport</div>
<div class="t" style="left:242.32px;top:3734.70px;font:italic bold 48px/1 'Liberation Sans',sans-serif;color:#0f8b8c;transform:scaleX(0.9115);">Palma de Mallorca, Spain</div>
<div class="t" style="left:1557.90px;top:3689.40px;font:normal 65px/1 'Liberation Sans',sans-serif;color:#000;transform:scaleX(0.9828);">$81.93</div>
<div class="t" style="left:1881.75px;top:3689.40px;font:normal 65px/1 'Liberation Sans',sans-serif;color:#000;transform:scaleX(0.9559);">$41.40</div>
<div class="t" style="left:2182.56px;top:3690.15px;font:bold 65.5px/1 'Liberation Sans',sans-serif;color:#4aaeae;transform:scaleX(0.9486);-webkit-text-stroke:1.4px #4aaeae;">-44.36%</div>
<div class="t" style="left:103.48px;top:3882.50px;font:bold 68px/1 'Liberation Sans',sans-serif;color:#fff;transform:scaleX(1.0637);">10</div>
<div class="t" style="left:242.56px;top:3854.40px;font:italic bold 68px/1 'Liberation Sans',sans-serif;color:#000;transform:scaleX(0.8871);">Dallas/Fort Worth International Airport</div>
<div class="t" style="left:242.29px;top:3928.10px;font:italic bold 48px/1 'Liberation Sans',sans-serif;color:#0f8b8c;transform:scaleX(0.9433);">Dallas/Fort Worth, USA</div>
<div class="t" style="left:1557.90px;top:3882.80px;font:normal 65px/1 'Liberation Sans',sans-serif;color:#000;transform:scaleX(0.9777);">$70.00</div>
<div class="t" style="left:1881.75px;top:3882.80px;font:normal 65px/1 'Liberation Sans',sans-serif;color:#000;transform:scaleX(0.9609);">$41.93</div>
<div class="t" style="left:2182.56px;top:3883.55px;font:bold 65.5px/1 'Liberation Sans',sans-serif;color:#4aaeae;transform:scaleX(0.9486);-webkit-text-stroke:1.4px #4aaeae;">-40.10%</div>
<div class="t" style="left:2320.82px;top:4159.50px;font:bold 40px/1 'Liberation Sans',sans-serif;color:#000;transform:scaleX(0.9464);">zutobi</div>
</body></html>
